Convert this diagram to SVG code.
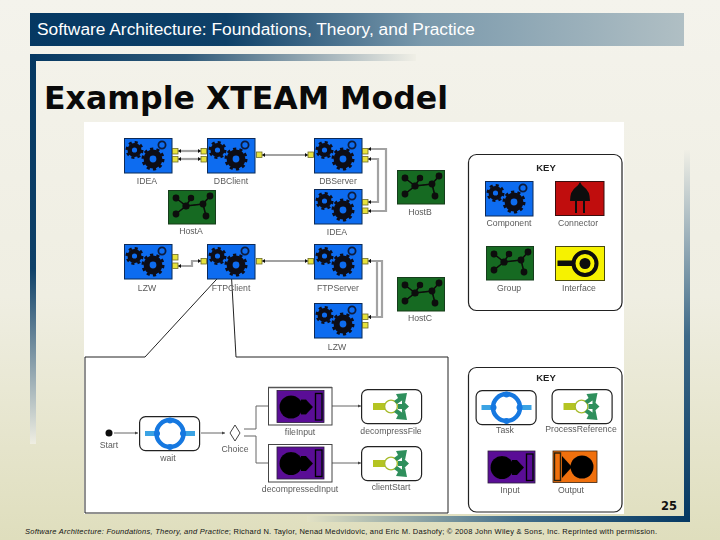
<svg xmlns="http://www.w3.org/2000/svg" width="720" height="540" viewBox="0 0 720 540">
<style>
.l{font-family:"Liberation Sans",Arial,sans-serif;font-size:8.7px;fill:#5a5a5a;text-anchor:middle}
.k{font-family:"Liberation Sans",Arial,sans-serif;font-size:9.5px;font-weight:bold;fill:#222;text-anchor:middle}
.port{fill:#e6e23c;stroke:#6d6d28;stroke-width:.8}
.w{fill:none;stroke:#a2a2a2;stroke-width:2.2;marker-start:url(#tip);marker-end:url(#tip)}
.a{fill:none;stroke:#666;stroke-width:1;marker-end:url(#arr)}
.f{fill:none;stroke:#666;stroke-width:1}
.c{fill:none;stroke:#222;stroke-width:1}
.rb{fill:#fff;stroke:#222;stroke-width:1.2}
.ink{stroke:#0c0c14;fill:none}
.soft{filter:url(#soft)}
</style>
<defs>
<filter id="soft" filterUnits="userSpaceOnUse" x="0" y="0" width="720" height="540"><feGaussianBlur stdDeviation="0.35"/></filter>
<linearGradient id="bg" x1="0" y1="0" x2="0" y2="1"><stop offset="0" stop-color="#f4f3ec"/><stop offset=".55" stop-color="#efeee2"/><stop offset="1" stop-color="#dfdebd"/></linearGradient>
<linearGradient id="ban" x1="0" y1="0" x2="1" y2="0"><stop offset="0" stop-color="#053862"/><stop offset=".3" stop-color="#0e4068"/><stop offset=".6" stop-color="#7a99ac"/><stop offset="1" stop-color="#b0bfc4"/></linearGradient>
<linearGradient id="ban2" x1="0" y1="0" x2="1" y2="0"><stop offset="0" stop-color="#053862"/><stop offset=".4" stop-color="#2d5878"/><stop offset="1" stop-color="#f0efe6"/></linearGradient>
<linearGradient id="lb" x1="0" y1="0" x2="0" y2="1"><stop offset="0" stop-color="#053862"/><stop offset=".55" stop-color="#0e4068"/><stop offset="1" stop-color="#efeee2"/></linearGradient>
<linearGradient id="rb" x1="0" y1="0" x2="0" y2="1"><stop offset="0" stop-color="#f0efe6"/><stop offset=".5" stop-color="#3e6a88"/><stop offset="1" stop-color="#053862"/></linearGradient>
<linearGradient id="bb" x1="0" y1="0" x2="1" y2="0"><stop offset="0" stop-color="#e2e1c4"/><stop offset=".55" stop-color="#426e8a"/><stop offset="1" stop-color="#053862"/></linearGradient>
<marker id="tip" markerUnits="userSpaceOnUse" markerWidth="4" markerHeight="4" refX="3" refY="2" orient="auto-start-reverse"><path d="M0,0L3,2L0,4Z" fill="#111"/></marker>
<marker id="arr" markerUnits="userSpaceOnUse" markerWidth="4" markerHeight="4" refX="3" refY="2" orient="auto"><path d="M0,.5L3,2L0,3.5Z" fill="#444"/></marker>
<g id="comp">
<rect x=".5" y=".5" width="47.500" height="34.500" fill="#0a6cf0" stroke="#0b2a58"/>
<circle cx="29" cy="21" r="6.4" class="ink" stroke-width="6"/>
<circle cx="29" cy="21" r="10.200" class="ink" stroke-width="2.600" stroke-dasharray="3.200 3.200"/>
<circle cx="10.500" cy="12" r="4.800" class="ink" stroke-width="4.400"/>
<circle cx="10.500" cy="12" r="7.800" class="ink" stroke-width="2.400" stroke-dasharray="3.060 3.060"/>
<circle cx="38" cy="7" r="3.600" stroke="#0c1c3c" stroke-width="1.800" fill="none"/>
</g>
<g id="host">
<rect x=".5" y=".5" width="47" height="33.500" fill="#176a20" stroke="#123c1c"/>
<path d="M8,8L18,16L23,8M8,24L18,16L35,14L42,6M35,14L38,26" stroke="#0a0a0a" stroke-width="1.500" fill="none"/>
<g fill="#0a0a0a"><circle cx="8" cy="8" r="3.400"/><circle cx="23" cy="8" r="3.200"/><circle cx="42" cy="6" r="3.400"/><circle cx="18" cy="16" r="3.600"/><circle cx="35" cy="14" r="3.400"/><circle cx="8" cy="24" r="3.400"/><circle cx="38" cy="26" r="3.400"/></g>
</g>
<g id="task">
<rect x=".6" y=".6" width="60" height="34" rx="6" fill="#fff" stroke="#222" stroke-width="1.200"/>
<path d="M6,15H20V20H6ZM42,15H56V20H42Z" fill="#3aa3e4"/>
<circle cx="31" cy="17.500" r="13.500" fill="#fff" stroke="#1478e0" stroke-width="4.400"/>
<g fill="#1478e0"><circle cx="31" cy="4.500" r="3"/><circle cx="31" cy="31" r="3"/><circle cx="18" cy="17.500" r="3"/><circle cx="44" cy="17.500" r="3"/></g>
</g>
<g id="pref">
<rect x=".6" y=".6" width="60" height="34" rx="6" fill="#fff" stroke="#222" stroke-width="1.200"/>
<path d="M12,14H25V21H12Z" fill="#b4c424"/>
<circle cx="30" cy="17.500" r="6.400" fill="#fff" stroke="#a8bc2c" stroke-width="1.400"/>
<g fill="#2f8f5c"><path d="M33,12L37,9L35,5L46,4L44,14L41,11.500L36,15Z"/><path d="M37,15H41V11L48,17.500L41,24V20H37Z"/><path d="M33,23L37,26L35,30L46,31L44,21L41,23.500L36,20Z"/></g>
</g>
<g id="inp">
<rect width="47" height="32" fill="#5a0f96" stroke="#2a1a3a" stroke-width=".8"/>
<circle cx="14" cy="16.500" r="11.500" fill="#060606"/>
<path d="M24,9H29L36,16.500L29,24H24Z" fill="#060606"/>
<rect x="38.500" y="3" width="6.500" height="26.500" fill="#5a0f96" stroke="#060606" stroke-width="1.400"/>
</g>
<g id="outp">
<rect width="44" height="31.500" fill="#f0700e" stroke="#3a2410" stroke-width=".8"/>
<circle cx="29" cy="16" r="11.500" fill="#060606"/>
<path d="M9,5L19,16L9,27Z" fill="#060606"/>
<rect x="1.500" y="2" width="6" height="27.500" fill="#f0700e" stroke="#2a2010" stroke-width="1.400"/>
</g>
</defs>

<rect width="720" height="540" fill="url(#bg)"/>
<rect x="30" y="13" width="654" height="33" fill="url(#ban)"/>
<rect x="30" y="54" width="386" height="7" fill="url(#ban2)"/>
<rect x="30" y="54" width="6" height="390" fill="url(#lb)"/>
<rect x="684" y="150" width="6" height="372" fill="url(#rb)"/>
<rect x="307" y="516" width="383" height="6" fill="url(#bb)"/>
<text x="37" y="34.500" font-family="'Liberation Sans',Arial,sans-serif" font-size="16" fill="#fff" textLength="438" lengthAdjust="spacingAndGlyphs">Software Architecture: Foundations, Theory, and Practice</text>
<text x="44" y="109" font-family="'DejaVu Sans',Verdana,sans-serif" font-weight="bold" font-size="32" fill="#0a0a0a" textLength="404" lengthAdjust="spacingAndGlyphs">Example XTEAM Model</text>
<rect x="84" y="122" width="540" height="392" fill="#fff"/>

<g id="connectors" class="soft">
<path class="w" d="M178,151H201"/><path class="w" d="M178,159H201"/>
<path class="w" d="M262,155H308"/>
<path class="w" d="M368,149H386V211H368"/>
<path class="w" d="M368,159H378V202H368"/>
<path class="w" d="M178,266H192V261H201"/>
<path class="w" d="M262,261H308"/>
<path class="w" d="M368,261H382V317H368"/>
<path class="w" d="M368,261H377V317H368"/>
<path class="c" d="M227,268L145,357H85V513H448V357H236L231,268"/>
<path class="a" d="M114,433H138"/>
<path class="a" d="M201,433H225"/>
<path class="f" d="M244,429H256V406H268"/>
<path class="f" d="M244,436H256V463H268"/>
<path class="a" d="M332,406H361"/>
<path class="a" d="M332,463H361"/>
</g>

<g id="n-idea1" class="soft"><use href="#comp" x="124" y="138"/><rect class="port" x="172.500" y="148.500" width="5.500" height="5.500"/><rect class="port" x="172.500" y="156.500" width="5.500" height="5.500"/><text class="l" x="147" y="184">IDEA</text></g>
<g id="n-dbclient" class="soft"><use href="#comp" x="207" y="138"/><rect class="port" x="201" y="148.500" width="5.500" height="5.500"/><rect class="port" x="201" y="156.500" width="5.500" height="5.500"/><rect class="port" x="256.500" y="152" width="5.500" height="5.500"/><text class="l" x="231" y="184">DBClient</text></g>
<g id="n-dbserver" class="soft"><use href="#comp" x="314" y="138"/><rect class="port" x="308" y="152" width="5.500" height="5.500"/><rect class="port" x="362.500" y="148.500" width="5.500" height="5.500"/><rect class="port" x="362.500" y="156.500" width="5.500" height="5.500"/><text class="l" x="338" y="184">DBServer</text></g>
<g id="n-idea2" class="soft"><use href="#comp" x="314" y="189"/><rect class="port" x="362.500" y="199.500" width="5.500" height="5.500"/><rect class="port" x="362.500" y="208" width="5.500" height="5.500"/><text class="l" x="337" y="235">IDEA</text></g>
<g id="n-hosta" class="soft"><use href="#host" x="168" y="190"/><text class="l" x="191" y="234">HostA</text></g>
<g id="n-hostb" class="soft"><use href="#host" x="397" y="170"/><text class="l" x="420" y="215">HostB</text></g>
<g id="n-lzw1" class="soft"><use href="#comp" x="124" y="244"/><rect class="port" x="172.500" y="254.500" width="5.500" height="5.500"/><rect class="port" x="172.500" y="263" width="5.500" height="5.500"/><text class="l" x="147" y="291">LZW</text></g>
<g id="n-ftpclient" class="soft"><use href="#comp" x="207" y="244"/><rect class="port" x="201" y="258.500" width="5.500" height="5.500"/><rect class="port" x="256.500" y="258.500" width="5.500" height="5.500"/><text class="l" x="231" y="291">FTPClient</text></g>
<g id="n-ftpserver" class="soft"><use href="#comp" x="314" y="244"/><rect class="port" x="308" y="258.500" width="5.500" height="5.500"/><rect class="port" x="362.500" y="258.500" width="5.500" height="5.500"/><text class="l" x="338" y="291">FTPServer</text></g>
<g id="n-lzw2" class="soft"><use href="#comp" x="314" y="303"/><rect class="port" x="362.500" y="314" width="5.500" height="5.500"/><rect class="port" x="362.500" y="322.500" width="5.500" height="5.500"/><text class="l" x="337" y="350">LZW</text></g>
<g id="n-hostc" class="soft"><use href="#host" x="397" y="277"/><text class="l" x="420" y="321">HostC</text></g>

<g id="key1" class="soft">
<rect class="rb" x="468.500" y="154.500" width="153.500" height="156" rx="8"/>
<text class="k" x="546" y="171">KEY</text>
<g id="key-component"><use href="#comp" x="485" y="181"/><text class="l" x="509" y="226">Component</text></g>
<g id="key-connector"><rect x="555.500" y="181.500" width="48.500" height="34" fill="#c00a0a" stroke="#3a1010"/>
<path d="M580,182Q582,186 584,187Q590,191 590,201H585V213H583V201H577V213H575V201H570Q570,191 576,187Q578,186 580,182Z" fill="#0a0a0a"/><text class="l" x="578" y="226">Connector</text></g>
<g id="key-group"><use href="#host" x="486" y="246"/><text class="l" x="509" y="291">Group</text></g>
<g id="key-interface"><rect x="555.500" y="246.500" width="49" height="34" fill="#f6f200" stroke="#4a4a10"/>
<path d="M557.500,260.500H572V266H557.500Z" fill="#0a0a0a"/><circle cx="585" cy="263.500" r="11.500" fill="none" stroke="#0a0a0a" stroke-width="4"/><circle cx="585" cy="263.500" r="5.500" fill="#0a0a0a"/><text class="l" x="579" y="291">Interface</text></g>
</g>

<g id="n-start" class="soft"><circle cx="109" cy="433" r="3.500" fill="#0a0a0a"/><text class="l" x="109" y="448">Start</text></g>
<g id="n-wait" class="soft"><use href="#task" x="139" y="416"/><text class="l" x="168" y="461">wait</text></g>
<g id="n-choice" class="soft"><path d="M235,425L240,433L235,441L230,433Z" fill="#fff" stroke="#444"/><text class="l" x="235" y="452">Choice</text></g>
<g id="n-fileinput" class="soft"><rect x="268.500" y="387.500" width="63.500" height="37.500" fill="#fff" stroke="#444"/><path d="M268,387.500H332" stroke="#555" stroke-width="1.500"/><use href="#inp" x="277" y="390.500"/><text class="l" x="300" y="435">fileInput</text></g>
<g id="n-decompressedinput" class="soft"><rect x="268.500" y="444.500" width="63.500" height="37.500" fill="#fff" stroke="#444"/><use href="#inp" x="277" y="447"/><text class="l" x="300" y="492">decompressedInput</text></g>
<g id="n-decompressfile" class="soft"><use href="#pref" x="361" y="389"/><text class="l" x="391" y="434">decompressFile</text></g>
<g id="n-clientstart" class="soft"><use href="#pref" x="361" y="446"/><text class="l" x="391" y="490">clientStart</text></g>

<g id="key2" class="soft">
<rect class="rb" x="468.500" y="367.500" width="153.500" height="144.500" rx="8"/>
<text class="k" x="546" y="381">KEY</text>
<g id="key-task"><use href="#task" x="475.500" y="390"/><text class="l" x="505" y="433">Task</text></g>
<g id="key-processreference"><use href="#pref" x="551.500" y="389"/><text class="l" x="581" y="432">ProcessReference</text></g>
<g id="key-input"><use href="#inp" x="488" y="451"/><text class="l" x="510" y="493">Input</text></g>
<g id="key-output"><use href="#outp" x="553" y="451"/><text class="l" x="571" y="493">Output</text></g>
</g>

<text x="661" y="510" font-family="'DejaVu Sans',sans-serif" font-weight="bold" font-size="12" fill="#111" textLength="16" lengthAdjust="spacingAndGlyphs">25</text>
<text x="25" y="534" font-family="'Liberation Sans',Arial,sans-serif" font-size="7.500" fill="#111" textLength="632" lengthAdjust="spacing"><tspan font-style="italic">Software Architecture: Foundations, Theory, and Practice</tspan>; Richard N. Taylor, Nenad Medvidovic, and Eric M. Dashofy; © 2008 John Wiley &amp; Sons, Inc. Reprinted with permission.</text>
</svg>
